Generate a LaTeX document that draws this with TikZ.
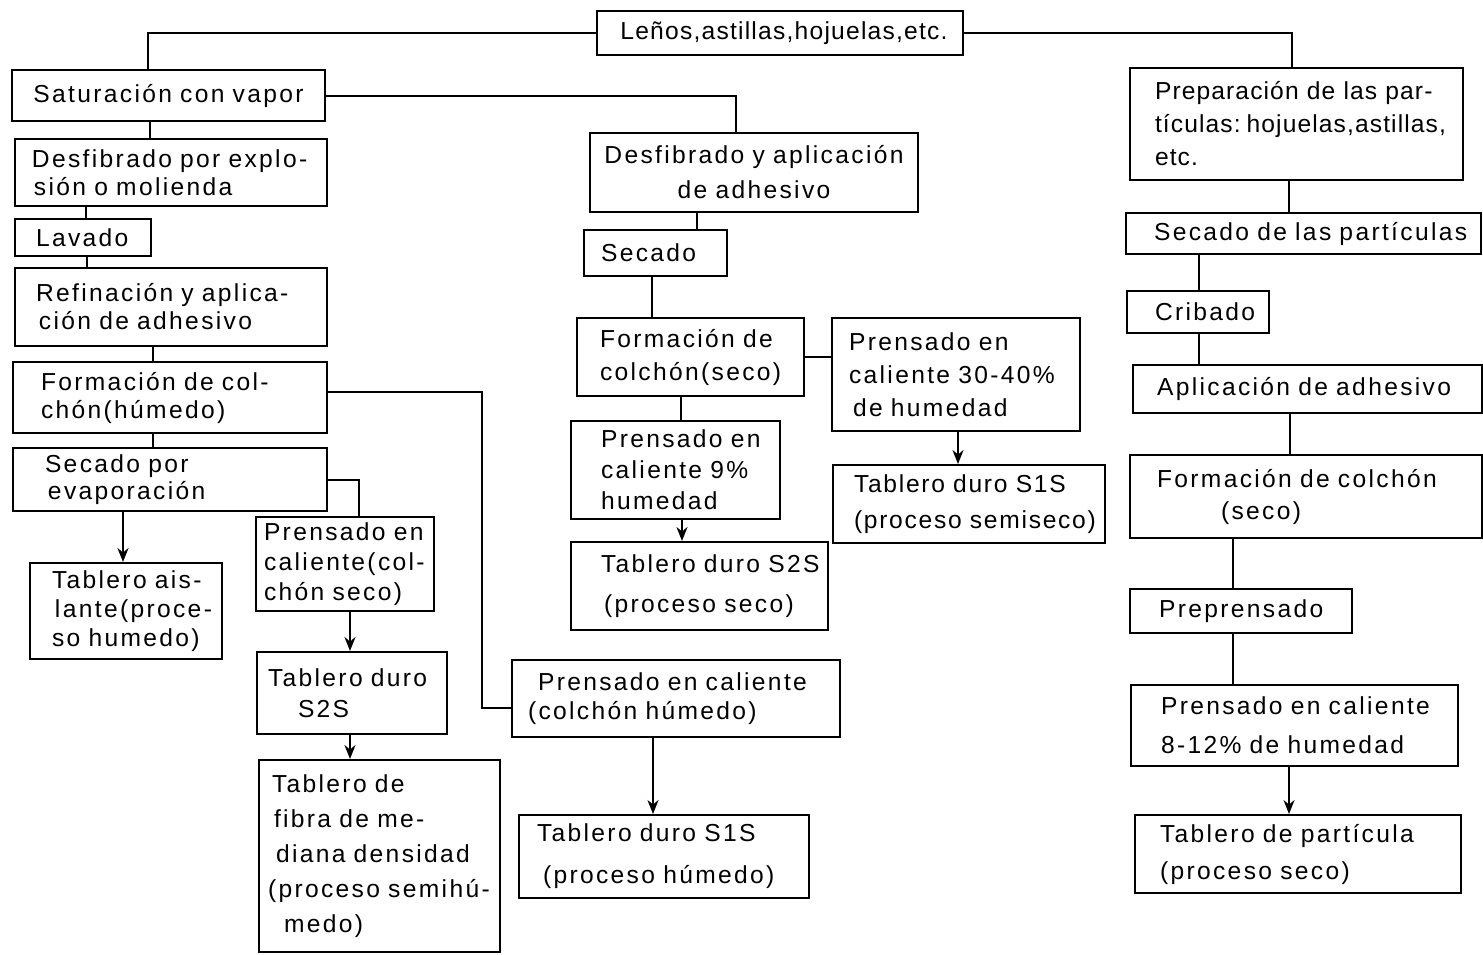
\documentclass[tikz,border=0pt]{standalone}
\usepackage{fontspec}
\setmainfont{Liberation Sans}[LetterSpace=9.5]
\usetikzlibrary{arrows.meta}
\hyphenpenalty=10000
\exhyphenpenalty=10000
\newcommand\lsk[1]{\fontsize{12.3}{#1}\selectfont}
\newcommand\mybox[8][]{\node[box, minimum width={(#5-#3)*0.5pt}, minimum height={(#6-#4)*0.5pt}, text width={(#5-#3-2*(#7))*0.5pt}, #1] (#2) at ({(#3+#5)/2},{(#4+#6)/2}) {#8};}
\begin{document}
\begin{tikzpicture}[x=0.5pt,y=-0.5pt,
  box/.style={draw, line width=1pt, inner sep=0pt, align=left, font=\lsk{15}},
  sk/.style={font={\lsk{#1}}},
  conn/.style={line width=1pt},
  arr/.style={line width=1pt, -{Stealth[length=7pt,width=5.5pt]}}]
\useasboundingbox[fill=white] (0,0) rectangle (1483,954);
% top
\mybox[align=center, font={\lsk{15}\addfontfeature{LetterSpace=5}}]{top}{597}{11}{963}{55}{10}{\hspace*{4pt}Leños,astillas,hojuelas,etc.}
% left column
\mybox[align=center]{sat}{12}{70}{325}{121}{10}{Saturación~con~vapor}
\mybox[sk=14]{dpe}{15}{139}{327}{206}{17}{Desfibrado~por~explo-\\\hspace*{1pt}sión~o~molienda}
\mybox{lav}{15}{219}{151}{256}{21}{Lavado}
\mybox[sk=14]{ref}{15}{268}{327}{346}{21}{Refinación~y~aplica-\\\hspace*{1.5pt}ción~de~adhesivo}
\mybox[sk=14]{fch}{13}{362}{327}{433}{28}{Formación~de~col-\\chón(húmedo)}
\mybox[sk=13.5]{sep}{13}{448}{327}{511}{32}{Secado~por\\\hspace*{1.5pt}evaporación}
\mybox[sk=14.5]{tai}{30}{563}{222}{659}{22}{Tablero~ais-\\\hspace*{1.5pt}lante(proce-\\so~humedo)}
\mybox{pcs}{256}{517}{434}{611}{8}{Prensado~en\\caliente(col-\\chón~seco)}
\mybox[sk=15.5]{tds}{257}{652}{447}{734}{11}{Tablero~duro\\\hspace*{15pt}S2S}
\mybox[sk=17.5]{tfm}{259}{760}{500}{952}{9}{\hspace*{2pt}Tablero~de\\\hspace*{3pt}fibra~de~me-\\\hspace*{4pt}diana~densidad\\(proceso~semihú-\\\hspace*{8pt}medo)}
% middle column
\mybox[sk=17.5, align=center]{dya}{590}{133}{918}{212}{10}{Desfibrado~y~aplicación\\de~adhesivo}
\mybox{sec}{584}{230}{727}{276}{17}{Secado}
\mybox[sk=16.5]{fcs}{577}{318}{804}{396}{23}{Formación~de\\colchón(seco)}
\mybox[sk=15.5]{p9}{571}{421}{780}{519}{30}{Prensado~en\\caliente~9\%\\humedad}
\mybox[sk=20]{tds2}{571}{542}{828}{630}{30}{Tablero~duro~S2S\\\hspace*{1.5pt}(proceso~seco)}
\mybox[sk=16.5]{p3040}{832}{318}{1080}{431}{17}{Prensado~en\\caliente~30-40\%\\\hspace*{2pt}de~humedad}
\mybox[font={\lsk{18}\addfontfeature{LetterSpace=7}}]{tds1s}{833}{465}{1105}{543}{21}{Tablero~duro~S1S\\(proceso~semiseco)}
\mybox[sk=14.5]{pch}{512}{660}{840}{737}{16}{\hspace*{5pt}Prensado~en~caliente\\(colchón~húmedo)}
\mybox[sk=21]{tdh}{519}{815}{809}{898}{18}{Tablero~duro~S1S\\\hspace*{3pt}(proceso~húmedo)}
% right column
\mybox[font={\lsk{16.5}\addfontfeature{LetterSpace=4.5}}]{prep}{1130}{68}{1463}{180}{25}{Preparación~de~las~par-\\tículas:\hspace*{3pt}hojuelas,astillas,\\etc.}
\mybox{spa}{1126}{213}{1481}{254}{28}{Secado~de~las~partículas}
\mybox{crib}{1127}{291}{1269}{333}{28}{Cribado}
\mybox{apl}{1133}{365}{1482}{413}{24}{Aplicación~de~adhesivo}
\mybox[sk=16]{fcr}{1130}{455}{1482}{538}{27}{Formación~de~colchón\\\hspace*{32pt}(seco)}
\mybox{pre}{1130}{589}{1352}{633}{29}{Preprensado}
\mybox[sk=19.5]{p812}{1131}{685}{1458}{766}{30}{Prensado~en~caliente\\8-12\%~de~humedad}
\mybox[sk=18.5]{tpa}{1135}{815}{1461}{893}{25}{Tablero~de~partícula\\(proceso~seco)}
% connectors
\draw[conn] (top.west) -| (148,0 |- sat.north);
\draw[conn] (top.east) -| (1292,0 |- prep.north);
\draw[conn] (sat.east) -| (736,0 |- dya.north);
\draw[conn] (150,0 |- sat.south) -- (150,0 |- dpe.north);
\draw[conn] (86,0 |- dpe.south) -- (86,0 |- lav.north);
\draw[conn] (87,0 |- lav.south) -- (87,0 |- ref.north);
\draw[conn] (153,0 |- ref.south) -- (153,0 |- fch.north);
\draw[conn] (153,0 |- fch.south) -- (153,0 |- sep.north);
\draw[conn] (fch.east |- 0,392) -| (482,0 |- pch.west) |- (pch.west |- 0,708);
\draw[conn] (sep.east) -| (359,0 |- pcs.north);
\draw[arr] (123,0 |- sep.south) -- (123,0 |- tai.north);
\draw[arr] (350,0 |- pcs.south) -- (350,0 |- tds.north);
\draw[arr] (350,0 |- tds.south) -- (350,0 |- tfm.north);
\draw[conn] (697,0 |- dya.south) -- (697,0 |- sec.north);
\draw[conn] (652,0 |- sec.south) -- (652,0 |- fcs.north);
\draw[conn] (fcs.east) -- (fcs.east -| p3040.west);
\draw[conn] (681,0 |- fcs.south) -- (681,0 |- p9.north);
\draw[arr] (682,0 |- p9.south) -- (682,0 |- tds2.north);
\draw[arr] (958,0 |- p3040.south) -- (958,0 |- tds1s.north);
\draw[arr] (653,0 |- pch.south) -- (653,0 |- tdh.north);
\draw[conn] (1289,0 |- prep.south) -- (1289,0 |- spa.north);
\draw[conn] (1199,0 |- spa.south) -- (1199,0 |- crib.north);
\draw[conn] (1199,0 |- crib.south) -- (1199,0 |- apl.north);
\draw[conn] (1290,0 |- apl.south) -- (1290,0 |- fcr.north);
\draw[conn] (1233,0 |- fcr.south) -- (1233,0 |- pre.north);
\draw[conn] (1233,0 |- pre.south) -- (1233,0 |- p812.north);
\draw[arr] (1289,0 |- p812.south) -- (1289,0 |- tpa.north);
\end{tikzpicture}
\end{document}
